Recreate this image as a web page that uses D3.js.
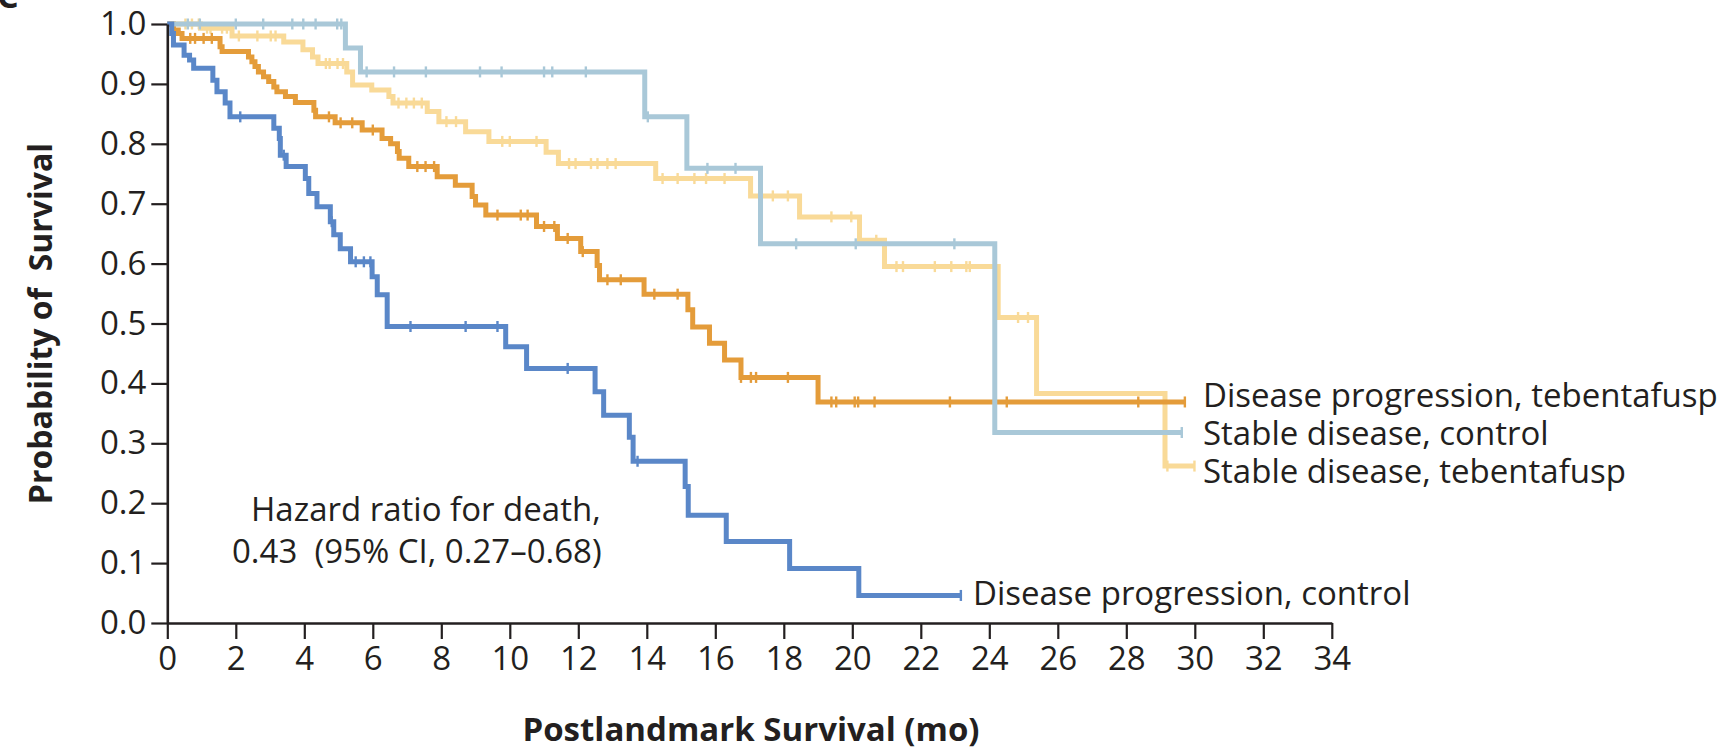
<!DOCTYPE html>
<html>
<head>
<meta charset="utf-8">
<script src="https://cdn.jsdelivr.net/npm/d3@7"></script>
<style>
    body { margin: 0; background: #fff; }
    text { font-family: "Open Sans", Lato, sans-serif; fill: #231f20; }
</style>
</head>
<body>
<div id="chart-area"></div>
<script>
// Tick values
var monthTicks = [0, 2, 4, 6, 8, 10, 12, 14, 16, 18, 20, 22, 24, 26, 28, 30, 32, 34];
var survTicks = [0.0, 0.1, 0.2, 0.3, 0.4, 0.5, 0.6, 0.7, 0.8, 0.9, 1.0];

// Disease progression, control
var dpCtrlTime = [0, 0.13, 0.18, 0.49, 0.65, 0.77, 1.33, 1.45, 1.69, 1.83, 3.11, 3.27, 3.3, 3.47, 4.03, 4.13, 4.37, 4.76, 4.86, 5.05, 5.35, 5.98, 6.13, 6.42, 9.88, 10.49, 12.49, 12.74, 13.49, 13.6, 15.12, 15.21, 16.32, 18.17, 20.19];
var dpCtrlSurv = [1, 0.984, 0.965, 0.948, 0.94, 0.926, 0.906, 0.887, 0.868, 0.845, 0.826, 0.809, 0.781, 0.762, 0.742, 0.717, 0.695, 0.67, 0.648, 0.625, 0.603, 0.578, 0.548, 0.495, 0.461, 0.425, 0.386, 0.347, 0.31, 0.27, 0.228, 0.18, 0.136, 0.091, 0.046];
var dpCtrlCens = [2.13, 3.4, 4.8, 5.5, 5.74, 5.93, 7.1, 8.71, 9.64, 11.69, 13.73, 23.17];
var dpCtrlEnd = 23.17;

// Disease progression, tebentafusp
var dpTebTime = [0, 0.18, 0.32, 0.43, 1.54, 1.6, 2.37, 2.47, 2.56, 2.66, 2.81, 2.96, 3.11, 3.2, 3.45, 3.74, 4.28, 4.33, 4.9, 5.69, 6.27, 6.52, 6.72, 6.77, 7.05, 7.88, 8.41, 8.9, 9.0, 9.3, 10.78, 11.39, 12.07, 12.55, 12.62, 13.92, 15.2, 15.34, 15.83, 16.27, 16.75, 19.0];
var dpTebSurv = [1, 0.99, 0.984, 0.976, 0.962, 0.954, 0.945, 0.937, 0.929, 0.92, 0.912, 0.904, 0.895, 0.887, 0.879, 0.869, 0.856, 0.845, 0.835, 0.823, 0.809, 0.8, 0.787, 0.776, 0.762, 0.745, 0.731, 0.712, 0.698, 0.681, 0.662, 0.642, 0.62, 0.597, 0.573, 0.549, 0.523, 0.494, 0.467, 0.439, 0.41, 0.369];
var dpTebCens = [0.67, 0.81, 1.06, 1.3, 4.72, 5.06, 5.4, 6.0, 7.3, 7.54, 7.79, 9.64, 10.32, 10.52, 11.0, 11.3, 11.69, 12.13, 12.85, 13.24, 14.22, 14.9, 16.75, 17.04, 17.19, 18.12, 19.39, 19.53, 20.07, 20.17, 20.65, 22.85, 24.51, 28.35, 29.71];
var dpTebEnd = 29.71;

// Stable disease, control
var sdCtrlTime = [0, 5.2, 5.64, 13.94, 15.17, 17.32, 24.16];
var sdCtrlSurv = [1, 0.96, 0.92, 0.845, 0.759, 0.633, 0.318];
var sdCtrlCens = [0.6, 0.95, 2.0, 2.8, 3.65, 3.97, 4.33, 4.96, 5.08, 5.82, 6.62, 7.55, 9.13, 9.76, 11.0, 11.24, 12.22, 14.03, 15.77, 16.59, 18.36, 20.1, 22.98, 29.62];
var sdCtrlEnd = 29.62;

// Stable disease, tebentafusp
var sdTebTime = [0, 0.97, 1.89, 3.4, 3.96, 4.24, 4.4, 5.24, 5.41, 5.97, 6.47, 6.59, 7.59, 7.93, 8.71, 9.39, 11.06, 11.42, 14.26, 17.03, 18.46, 20.21, 20.94, 24.26, 25.38, 29.13];
var sdTebSurv = [1, 0.993, 0.98, 0.97, 0.957, 0.945, 0.934, 0.92, 0.898, 0.89, 0.879, 0.868, 0.854, 0.837, 0.82, 0.804, 0.786, 0.767, 0.742, 0.713, 0.678, 0.639, 0.595, 0.51, 0.383, 0.262];
var sdTebCens = [0.53, 0.72, 0.92, 1.16, 1.26, 1.6, 1.74, 2.09, 2.63, 3.02, 3.16, 4.63, 4.74, 4.97, 5.13, 6.75, 6.98, 7.2, 7.43, 8.15, 8.43, 9.78, 10.0, 10.78, 11.73, 11.92, 12.37, 12.56, 12.85, 13.09, 14.46, 14.9, 15.39, 15.73, 16.27, 17.68, 18.12, 19.39, 19.97, 20.7, 21.29, 21.48, 22.41, 22.89, 23.33, 23.43, 24.84, 25.13, 29.2, 29.99];
var sdTebEnd = 29.99;

var seriesNames = ["Stable disease, tebentafusp", "Disease progression, tebentafusp", "Stable disease, control", "Disease progression, control"];
var seriesColors = ["#f9da98", "#e49c3a", "#a9c8d8", "#5a87c8"];

var series = [
    { time: sdTebTime, surv: sdTebSurv, cens: sdTebCens, end: sdTebEnd },
    { time: dpTebTime, surv: dpTebSurv, cens: dpTebCens, end: dpTebEnd },
    { time: sdCtrlTime, surv: sdCtrlSurv, cens: sdCtrlCens, end: sdCtrlEnd },
    { time: dpCtrlTime, surv: dpCtrlSurv, cens: dpCtrlCens, end: dpCtrlEnd }
];

var margin = { top: 24, left: 167.3 },
    width = 1164.5,
    height = 599;

var svg = d3.select("#chart-area")
    .append("svg")
    .attr("width", 1734)
    .attr("height", 752);

var g = svg.append("g")
    .attr("transform", "translate(" + margin.left + "," + margin.top + ")");

var xScale = d3.scaleLinear().domain([0, 34]).range([0, width]);
var yScale = d3.scaleLinear().domain([0, 1]).range([height, 0]);

// survival at time t (step function)
function survAt(s, t) {
    var v = s.surv[0];
    for (var i = 0; i < s.time.length; i++) {
        if (s.time[i] <= t) v = s.surv[i];
    }
    return v;
}

var line = d3.line()
    .x(function(d) { return xScale(d[0]); })
    .y(function(d) { return yScale(d[1]); })
    .curve(d3.curveStepAfter);

series.forEach(function(s, k) {
    var pts = s.time.map(function(t, i) { return [t, s.surv[i]]; });
    pts.push([s.end, s.surv[s.surv.length - 1]]);

    g.append("path")
        .datum(pts)
        .attr("fill", "none")
        .attr("stroke", seriesColors[k])
        .attr("stroke-width", 5)
        .attr("d", line);

    g.selectAll(".cens" + k)
        .data(s.cens)
        .enter()
        .append("line")
        .attr("class", "cens" + k)
        .attr("x1", function(d) { return xScale(d); })
        .attr("x2", function(d) { return xScale(d); })
        .attr("y1", function(d) { return yScale(survAt(s, d)) - 5.5; })
        .attr("y2", function(d) { return yScale(survAt(s, d)) + 5.5; })
        .attr("stroke", seriesColors[k])
        .attr("stroke-width", 2.4);
});

// Axes
var xAxis = d3.axisBottom(xScale)
    .tickValues(monthTicks)
    .tickFormat(d3.format("d"))
    .tickSize(16)
    .tickSizeOuter(0)
    .tickPadding(8);

var yAxis = d3.axisLeft(yScale)
    .tickValues(survTicks)
    .tickFormat(d3.format(".1f"))
    .tickSize(16)
    .tickSizeOuter(0)
    .tickPadding(5);

var xg = g.append("g")
    .attr("transform", "translate(0," + height + ")")
    .call(xAxis);

var yg = g.append("g").call(yAxis);

[xg, yg].forEach(function(a) {
    a.select(".domain").attr("stroke", "#231f20").attr("stroke-width", 2.6);
    a.selectAll(".tick line").attr("stroke", "#231f20").attr("stroke-width", 2.2);
    a.selectAll(".tick text")
        .style("font-family", "'Open Sans', sans-serif")
        .style("font-size", "33px")
        .attr("fill", "#231f20");
});

// Axis titles
svg.append("text")
    .attr("x", 751)
    .attr("y", 741)
    .attr("text-anchor", "middle")
    .style("font-size", "33px")
    .style("font-weight", "bold")
    .text("Postlandmark Survival (mo)");

svg.append("text")
    .attr("transform", "translate(52," + (margin.top + height / 2) + ") rotate(-90)")
    .attr("text-anchor", "middle")
    .style("font-size", "32px")
    .style("font-weight", "bold")
    .style("white-space", "pre")
    .text("Probability of  Survival");

// Panel letter (clipped at top, as in the source figure)
svg.append("text")
    .attr("x", -3)
    .attr("y", 8)
    .style("font-size", "34px")
    .style("font-weight", "bold")
    .text("C");

// Curve labels
var labelPos = [
    { name: seriesNames[1], x: 1203, y: 407 },
    { name: seriesNames[2], x: 1203, y: 445 },
    { name: seriesNames[0], x: 1203, y: 483 },
    { name: seriesNames[3], x: 973, y: 605 }
];
svg.selectAll(".lab")
    .data(labelPos)
    .enter()
    .append("text")
    .attr("class", "lab")
    .attr("x", function(d) { return d.x; })
    .attr("y", function(d) { return d.y; })
    .style("font-size", "33px")
    .text(function(d) { return d.name; });

// Hazard ratio note
svg.append("text")
    .attr("x", 251)
    .attr("y", 521)
    .style("font-size", "33px")
    .text("Hazard ratio for death,");

svg.append("text")
    .attr("x", 232)
    .attr("y", 563)
    .style("font-size", "33px")
    .style("white-space", "pre")
    .text("0.43  (95% CI, 0.27\u20130.68)");
</script>
</body>
</html>
